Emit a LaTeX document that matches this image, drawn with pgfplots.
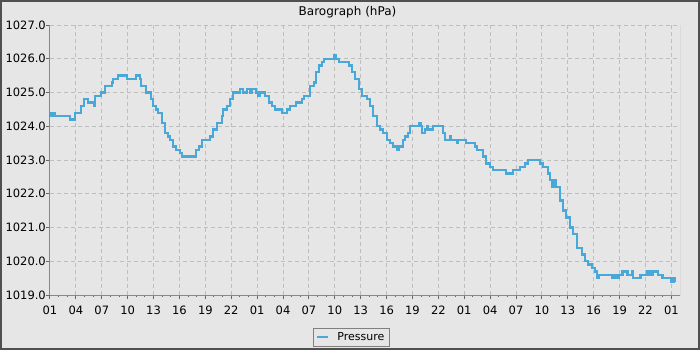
\documentclass[border=0pt]{standalone}
\usepackage{fontspec}
\setmainfont{DejaVu Sans}
\usepackage{pgfplots}
\pgfplotsset{compat=1.18}
\definecolor{bg}{RGB}{230,230,230}
\definecolor{framec}{RGB}{80,80,80}
\definecolor{gridc}{RGB}{190,190,190}
\definecolor{axc}{RGB}{136,136,136}
\definecolor{linec}{RGB}{74,168,216}
\begin{document}
\begin{tikzpicture}
\useasboundingbox (-50bp,-55bp) rectangle (650bp,295bp);
\fill[bg] (-50bp,-55bp) rectangle (650bp,295bp);
\draw[framec, line width=2bp] (-49bp,-54bp) rectangle (649bp,294bp);
\node[font=\fontsize{12bp}{14bp}\selectfont, anchor=base, inner sep=0pt] at (297.5bp,279bp) {Barograph (hPa)};
\begin{axis}[
  at={(0,0)}, anchor=south west,
  scale only axis, width=630bp, height=270bp,
  xmin=0, xmax=73, ymin=1019, ymax=1027,
  axis x line*=bottom, axis y line*=left,
  axis line style={axc, line width=1bp},
  xtick={0,3,...,72},
  xticklabels={01,04,07,10,13,16,19,22,01,04,07,10,13,16,19,22,01,04,07,10,13,16,19,22,01},
  ytick={1019,1020,...,1027},
  yticklabels={1019.0,1020.0,1021.0,1022.0,1023.0,1024.0,1025.0,1026.0,1027.0},
  minor x tick num=2, minor y tick num=1,
  tick align=outside,
  major tick length=4bp, minor tick length=2bp,
  every tick/.style={gray!80!black, line width=1bp},
  grid=major,
  major grid style={gridc, dash pattern=on 4bp off 3bp, line width=1bp},
  xticklabel style={font=\fontsize{11.5bp}{13bp}\selectfont, anchor=north, inner sep=0pt, yshift=-7bp},
  yticklabel style={font=\fontsize{11.5bp}{13bp}\selectfont, anchor=east, inner sep=0pt, xshift=0bp},
  legend style={at={(0.478,0)}, anchor=north, yshift=-33bp, draw=gray, fill=bg,
    font=\fontsize{11bp}{13bp}\selectfont, inner xsep=3bp, inner ysep=2bp, rounded corners=0pt},
  legend image code/.code={\draw[#1, line width=2.5bp] (0bp,0bp) -- (11bp,0bp);},
  legend cell align=left,
]
\addplot[const plot, linec, line width=2.3bp] coordinates {
(0,1024.4) (0.12,1024.3) (0.35,1024.4) (0.58,1024.3) (2.20,1024.3) (2.32,1024.2) (2.78,1024.2) (2.90,1024.4)
(3.48,1024.4) (3.59,1024.6) (3.83,1024.6) (3.94,1024.8) (4.29,1024.8) (4.41,1024.7) (4.99,1024.7) (5.10,1024.6)
(5.22,1024.9) (5.80,1024.9) (5.91,1025.0) (6.26,1025.0) (6.38,1025.2) (6.96,1025.2) (7.19,1025.3) (7.30,1025.4)
(7.77,1025.4) (7.88,1025.5) (8.81,1025.5) (8.93,1025.4) (9.86,1025.4) (9.97,1025.5) (10.43,1025.4) (10.55,1025.2)
(11.01,1025.2) (11.13,1025.0) (11.59,1025.0) (11.71,1024.8) (11.94,1024.6) (12.29,1024.5) (12.52,1024.4) (12.99,1024.1)
(13.33,1023.8) (13.68,1023.7) (13.91,1023.6) (14.26,1023.4) (14.61,1023.3) (15.07,1023.2) (15.30,1023.1) (16.81,1023.1)
(16.93,1023.3) (17.28,1023.4) (17.62,1023.6) (18.32,1023.6) (18.55,1023.7) (18.90,1023.9) (19.36,1024.1) (19.71,1024.1)
(19.94,1024.3) (20.06,1024.5) (20.52,1024.6) (20.87,1024.8) (21.22,1025.0) (21.68,1025.0) (22.03,1025.1) (22.38,1025.0)
(22.84,1025.1) (23.19,1025.0) (23.42,1025.1) (23.88,1025.0) (24.12,1024.9) (24.35,1025.0) (24.58,1025.0) (24.93,1024.9)
(25.39,1024.7) (25.74,1024.6) (26.09,1024.5) (26.67,1024.5) (26.90,1024.4) (27.25,1024.4) (27.48,1024.5) (27.83,1024.6)
(28.29,1024.6) (28.52,1024.7) (29.22,1024.8) (29.45,1024.9) (30.03,1024.9) (30.14,1025.2) (30.61,1025.3) (30.84,1025.6)
(31.19,1025.8) (31.54,1025.9) (31.77,1026.0) (32.70,1026.0) (32.93,1026.1) (33.16,1026.0) (33.51,1025.9) (34.09,1025.9)
(34.43,1025.9) (34.67,1025.8) (35.01,1025.6) (35.36,1025.4) (35.83,1025.1) (36.17,1024.9) (36.75,1024.8) (37.10,1024.6)
(37.45,1024.3) (37.91,1024.0) (38.26,1023.9) (38.61,1023.8) (39.07,1023.6) (39.42,1023.5) (39.77,1023.4) (40.12,1023.4)
(40.23,1023.3) (40.46,1023.4) (40.81,1023.4) (40.93,1023.6) (41.16,1023.7) (41.51,1023.8) (41.74,1024.0) (42.32,1024.0)
(42.55,1024.0) (42.78,1024.1) (43.01,1024.0) (43.13,1023.8) (43.48,1023.9) (43.71,1024.0) (43.83,1023.9) (44.29,1023.9)
(44.41,1024.0) (45.45,1024.0) (45.57,1023.8) (45.80,1023.6) (46.26,1023.6) (46.38,1023.7) (46.49,1023.6) (46.96,1023.6)
(47.19,1023.5) (47.30,1023.6) (48.12,1023.6) (48.23,1023.5) (49.04,1023.5) (49.28,1023.4) (49.51,1023.3) (49.86,1023.3)
(50.20,1023.1) (50.55,1022.9) (51.01,1022.8) (51.36,1022.7) (51.94,1022.7) (52.17,1022.7) (52.75,1022.7) (52.87,1022.6)
(53.33,1022.6) (53.68,1022.7) (53.91,1022.7) (54.49,1022.8) (54.61,1022.8) (55.07,1022.9) (55.42,1023.0) (56.58,1023.0)
(56.81,1022.9) (57.16,1022.8) (57.51,1022.8) (57.74,1022.6) (57.97,1022.4) (58.20,1022.2) (58.43,1022.4) (58.55,1022.4)
(58.67,1022.2) (59.13,1021.8) (59.48,1021.5) (59.83,1021.3) (60.29,1021.0) (60.64,1020.8) (61.10,1020.4) (61.68,1020.2)
(62.03,1020.0) (62.38,1019.9) (62.84,1019.8) (63.19,1019.7) (63.42,1019.5) (63.54,1019.6) (64.93,1019.6) (65.16,1019.5)
(65.39,1019.6) (65.62,1019.5) (65.86,1019.6) (66.09,1019.6) (66.32,1019.7) (66.67,1019.7) (66.90,1019.6) (67.36,1019.6)
(67.48,1019.7) (67.59,1019.5) (68.17,1019.5) (68.41,1019.6) (68.99,1019.6) (69.22,1019.7) (69.57,1019.6) (69.91,1019.7)
(70.38,1019.7) (70.49,1019.6) (70.84,1019.6) (70.96,1019.5) (71.65,1019.5) (71.88,1019.5) (72.00,1019.4) (72.23,1019.5)
(72.35,1019.4)
};
\addlegendentry{\hspace{6bp}Pressure\hspace{5bp}}
\draw[axc, line width=1bp] (rel axis cs:1,0) -- (rel axis cs:1,1);
\end{axis}
\end{tikzpicture}
\end{document}
